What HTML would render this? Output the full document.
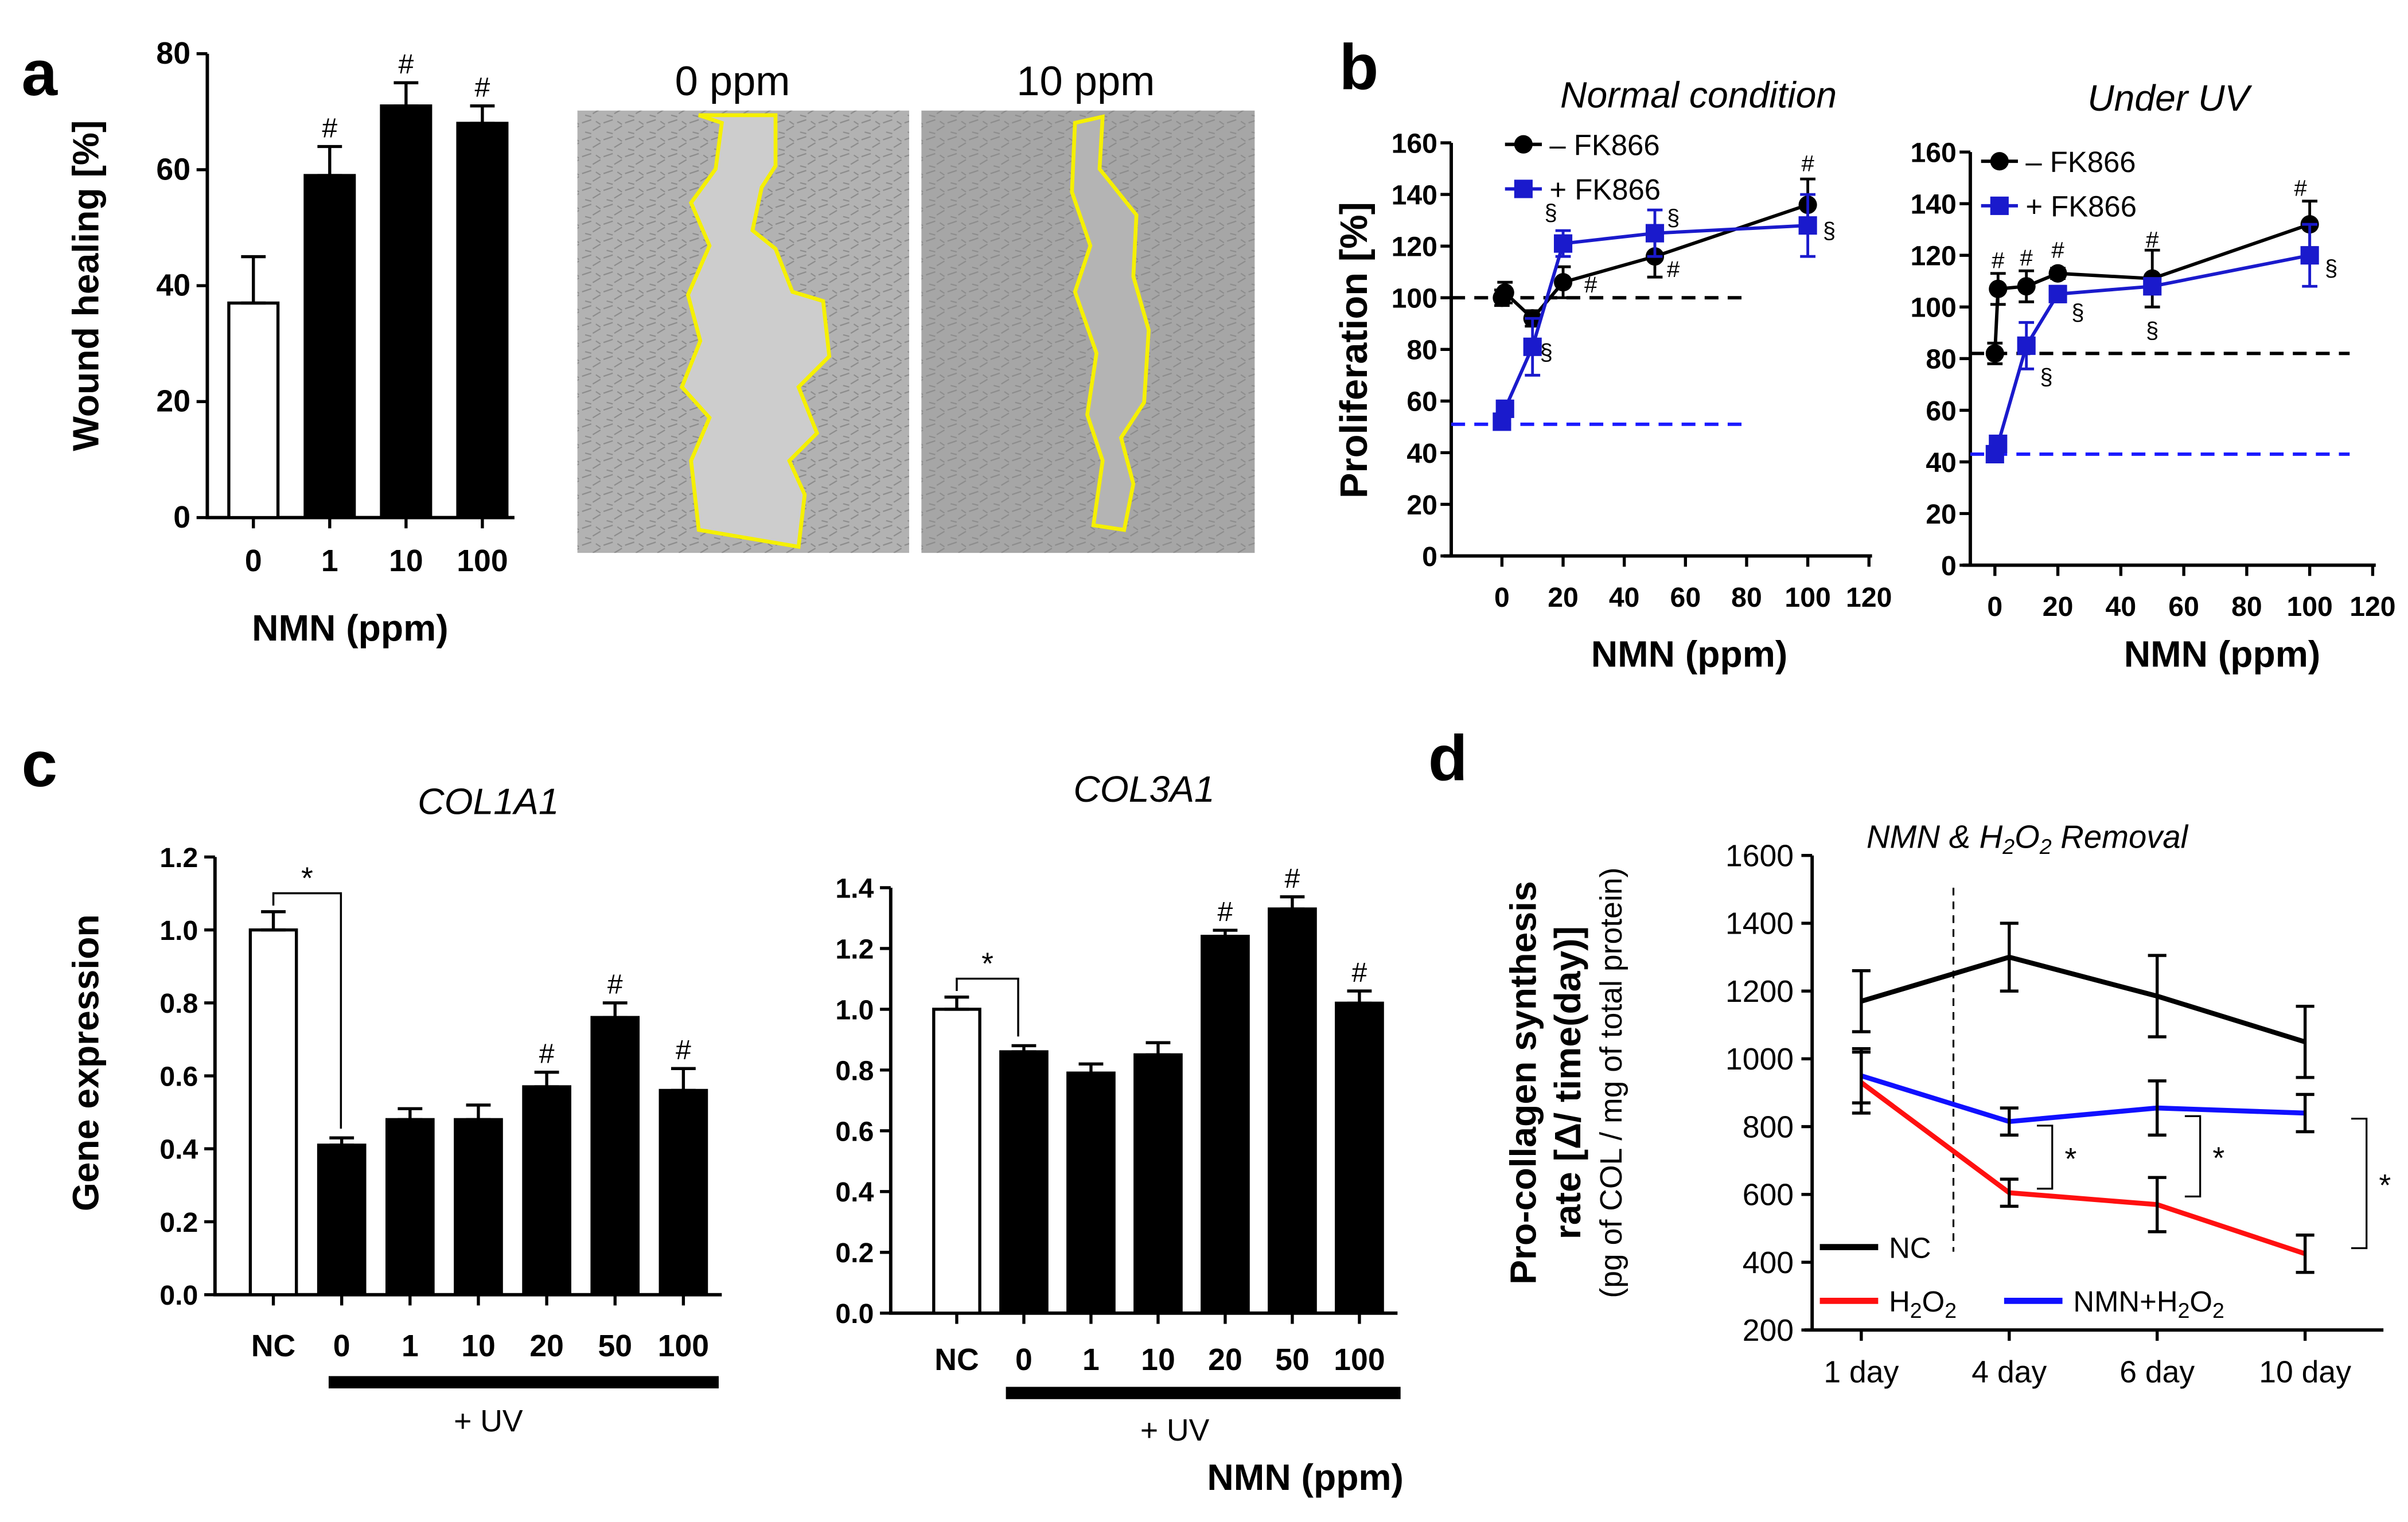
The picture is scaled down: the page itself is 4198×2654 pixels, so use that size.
<!DOCTYPE html>
<html><head><meta charset="utf-8"><style>
html,body{margin:0;padding:0;background:#fff;}
svg{display:block;font-family:"Liberation Sans",Arial,sans-serif;}
</style></head><body>
<svg id="fig" width="4198" height="2654" viewBox="0 0 1568 991" preserveAspectRatio="none" xmlns="http://www.w3.org/2000/svg">
<defs>
<pattern id="cells" width="14" height="11" patternUnits="userSpaceOnUse">
<path d="M1,3 l6,-2 M8,8 l5,-3 M3,9 l4,1 M10,2 l3,2" stroke="#7a7a7a" stroke-width="0.8" fill="none"/>
</pattern>
</defs>
<g font-weight="bold" font-size="42">
<text x="14" y="62">a</text>
<text x="872" y="58">b</text>
<text x="14" y="512">c</text>
<text x="930" y="508">d</text>
</g>
<g>
<rect x="376" y="72" width="216" height="288" fill="#b2b2b2"/>
<rect x="376" y="72" width="216" height="288" fill="url(#cells)" opacity="0.7"/>
<polygon points="455,75 470,80 466,110 450,132 462,160 448,192 456,222 444,252 462,272 450,300 455,345 520,356 524,322 514,300 532,282 520,252 540,232 536,196 516,190 505,162 490,150 496,122 505,108 505,75" fill="#cdcdcd" stroke="#f5f000" stroke-width="2.5"/>
<rect x="600" y="72" width="217" height="288" fill="#a6a6a6"/>
<rect x="600" y="72" width="217" height="288" fill="url(#cells)" opacity="0.6"/>
<polygon points="700,80 718,76 716,110 740,140 738,180 748,215 745,262 730,285 738,315 732,345 712,342 718,300 708,270 714,230 700,190 710,160 698,125" fill="#b4b4b4" stroke="#f5f000" stroke-width="2.5"/>
<text x="477" y="62" font-size="27" text-anchor="middle">0 ppm</text>
<text x="707" y="62" font-size="27" text-anchor="middle">10 ppm</text>
</g>
<g id="charts"></g>
</svg>
<script>
// ---- Panel a data ----
const aCats = ["0","1","10","100"];
const aVals = [37, 59, 71, 68];
const aErr = [8, 5, 4, 3];
const aFill = ["#fff","#000","#000","#000"];
const aSig = ["","#","#","#"];
const aTicks = [0,20,40,60,80];
// ---- Panel b data ----
const bX = [0,1,10,20,50,100];
const bNormMinus = [100,102,92,106,116,136];
const bNormMinusErr = [3,4,3,6,8,10];
const bNormPlus = [52,57,81,121,125,128];
const bNormPlusErr = [2,3,11,5,9,12];
const bUvMinus = [82,107,108,113,111,132];
const bUvMinusErr = [4,6,6,2,11,9];
const bUvPlus = [43,47,85,105,108,120];
const bUvPlusErr = [2,3,9,3,3,12];
const bNormBase = [100,51];
const bUvBase = [82,43];
const bYTicks = [0,20,40,60,80,100,120,140,160];
const bXTicks = [0,20,40,60,80,100,120];
// ---- Panel c data ----
const cCats = ["NC","0","1","10","20","50","100"];
const c1Vals = [1.0,0.41,0.48,0.48,0.57,0.76,0.56];
const c1Err = [0.05,0.02,0.03,0.04,0.04,0.04,0.06];
const c1Sig = ["","","","","#","#","#"];
const c1Ticks = [0,0.2,0.4,0.6,0.8,1.0,1.2];
const c3Vals = [1.0,0.86,0.79,0.85,1.24,1.33,1.02];
const c3Err = [0.04,0.02,0.03,0.04,0.02,0.04,0.04];
const c3Sig = ["","","","","#","#","#"];
const c3Ticks = [0,0.2,0.4,0.6,0.8,1.0,1.2,1.4];
// ---- Panel d data ----
const dCats = ["1 day","4 day","6 day","10 day"];
const dNC = [1170,1300,1185,1050];
const dNCErr = [90,100,120,105];
const dNMN = [950,815,855,840];
const dNMNErr = [80,40,80,55];
const dH2O2 = [930,605,570,425];
const dH2O2Err = [90,40,80,55];
const dTicks = [200,400,600,800,1000,1200,1400,1600];

const NS="http://www.w3.org/2000/svg";
const root=document.getElementById('charts');
function mk(tag,attrs,parent){const e=document.createElementNS(NS,tag);for(const k in attrs)e.setAttribute(k,attrs[k]);(parent||root).appendChild(e);return e;}
function txt(x,y,s,attrs,parent){const e=mk('text',Object.assign({x:x,y:y},attrs||{}),parent);e.textContent=s;return e;}
function lin(scaleMin,scaleMax,pxMin,pxMax){return v=>pxMin+(v-scaleMin)/(scaleMax-scaleMin)*(pxMax-pxMin);}
function errBar(g,x,y1,y2,w,color,sw){
  const e=mk('path',{d:`M${x},${y1}V${y2}M${x-w},${y1}H${x+w}M${x-w},${y2}H${x+w}`,stroke:color,'stroke-width':sw||2,fill:'none'},g);
  
  
}

// ===== Bar chart helper =====
function barChart(name,cfg){
  const g=mk('g',{});
  
  
  const y=lin(0,cfg.ymax,cfg.y0,cfg.ytop);
  const ax=mk('path',{d:`M${cfg.ax},${cfg.ytop}V${cfg.y0}H${cfg.axEnd}`,stroke:'#000','stroke-width':2.2,fill:'none'},g);
  
  
  cfg.ticks.forEach(t=>{
    const tk=mk('line',{x1:cfg.ax-7,x2:cfg.ax,y1:y(t),y2:y(t),stroke:'#000','stroke-width':2},g);
    
    
    const tl=txt(cfg.ax-11,y(t)+6.5,cfg.fmt(t),{'font-size':cfg.tfs||18,'font-weight':'bold','text-anchor':'end'},g);
    
    
  });
  cfg.cats.forEach((c,i)=>{
    const cx=cfg.x0+i*cfg.step;
    const b=mk('rect',{x:cx-cfg.bw/2,y:y(cfg.vals[i]),width:cfg.bw,height:cfg.y0-y(cfg.vals[i]),fill:cfg.fill[i],stroke:'#000','stroke-width':2},g);
    
    
    errBar(g,cx,y(cfg.vals[i]),y(cfg.vals[i]+cfg.err[i]),8,'#000',2);
    const tk=mk('line',{x1:cx,x2:cx,y1:cfg.y0,y2:cfg.y0+7,stroke:'#000','stroke-width':2},g);
    
    
    const tl=txt(cx,cfg.y0+cfg.xlblOff,c,{'font-size':20,'font-weight':'bold','text-anchor':'middle'},g);
    
    
    if(cfg.sig[i]){
      const s=txt(cx,y(cfg.vals[i]+cfg.err[i])-6,cfg.sig[i],{'font-size':18,'text-anchor':'middle'},g);
      
      
    }
  });
  return {g,y};
}

// Panel a
const pa=barChart('wound-healing-chart',{cats:aCats,vals:aVals,err:aErr,fill:aFill,sig:aSig,ticks:aTicks,ymax:80,y0:337,ytop:35,ax:135,axEnd:335,x0:165,step:49.7,bw:32,xlblOff:35,tfs:20,fmt:t=>String(t)});
const aYT=txt(0,0,'Wound healing [%]',{'font-size':24,'font-weight':'bold','text-anchor':'middle',transform:'translate(64,186) rotate(-90)'},pa.g);


const aXT=txt(228,417,'NMN (ppm)',{'font-size':24,'font-weight':'bold','text-anchor':'middle'},pa.g);



// Panel c
const pc1=barChart('col1a1-chart',{cats:cCats,vals:c1Vals,err:c1Err,fill:["#fff","#000","#000","#000","#000","#000","#000"],sig:c1Sig,ticks:c1Ticks,ymax:1.2,y0:843,ytop:558,ax:140,axEnd:470,x0:178,step:44.5,bw:30,xlblOff:40,fmt:t=>t.toFixed(1)});
const pc3=barChart('col3a1-chart',{cats:cCats,vals:c3Vals,err:c3Err,fill:["#fff","#000","#000","#000","#000","#000","#000"],sig:c3Sig,ticks:c3Ticks,ymax:1.4,y0:855,ytop:578,ax:580,axEnd:910,x0:623,step:43.7,bw:30,xlblOff:37,fmt:t=>t.toFixed(1)});
[[pc1,'COL1A1',318,530,214,468,900,318,932,c1Vals,c1Err,178,222],[pc3,'COL3A1',745,522,655,912,907,765,938,c3Vals,c3Err,623,663]].forEach(p=>{
  const [pp,title,tx,ty,bx1,bx2,by,ux,uy,vals,err,x1,x2]=p;
  const t=txt(tx,ty,title,{'font-size':24,'font-style':'italic','text-anchor':'middle'},pp.g);
  
  
  const b=mk('rect',{x:bx1,y:by-4,width:bx2-bx1,height:8,fill:'#000'},pp.g);
  
  
  const u=txt(ux,uy,'+ UV',{'font-size':20,'text-anchor':'middle'},pp.g);
  
  
  const top=pp.y(vals[0]+err[0])-12;
  const br=mk('path',{d:`M${x1},${pp.y(vals[0]+err[0])-4}V${top}H${x2}V${pp.y(vals[1]+err[1])-6}`,stroke:'#000','stroke-width':1.3,fill:'none'},pp.g);
  
  
  const s=txt((x1+x2)/2,top-3,'*',{'font-size':20,'text-anchor':'middle'},pp.g);
  
  
});
const cYT=txt(0,0,'Gene expression',{'font-size':24,'font-weight':'bold','text-anchor':'middle',transform:'translate(64,692) rotate(-90)'},pc1.g);


const cXT=txt(850,970,'NMN (ppm)',{'font-size':24,'font-weight':'bold','text-anchor':'middle'},pc3.g);



// ===== Panel b =====
function lineChart(name,cfg){
  const g=mk('g',{});
  
  
  const y=lin(0,160,cfg.y0,cfg.ytop);
  const x=lin(0,120,cfg.x0,cfg.x120);
  const ax=mk('path',{d:`M${cfg.ax},${cfg.ytop}V${cfg.y0}M${cfg.ax-5},${cfg.y0}H${cfg.x120+2}`,stroke:'#000','stroke-width':2.2,fill:'none'},g);
  
  
  bYTicks.forEach(t=>{
    const tk=mk('line',{x1:cfg.ax-7,x2:cfg.ax,y1:y(t),y2:y(t),stroke:'#000','stroke-width':2},g);
    
    
    const tl=txt(cfg.ax-9,y(t)+6.5,String(t),{'font-size':18,'font-weight':'bold','text-anchor':'end',textLength:t>=100?30:(t>0?20:10)},g);
    
    
  });
  bXTicks.forEach(t=>{
    const tk=mk('line',{x1:x(t),x2:x(t),y1:cfg.y0,y2:cfg.y0+7,stroke:'#000','stroke-width':2},g);
    
    
    const tl=txt(x(t),cfg.y0+33,String(t),{'font-size':18,'font-weight':'bold','text-anchor':'middle'},g);
    
    
  });
  const bl=mk('line',{x1:cfg.ax,x2:cfg.dashEnd,y1:y(cfg.base[0]),y2:y(cfg.base[0]),stroke:'#000','stroke-width':2.2,'stroke-dasharray':'9,6'},g);
  
  
  const bb=mk('line',{x1:cfg.ax,x2:cfg.dashEnd,y1:y(cfg.base[1]),y2:y(cfg.base[1]),stroke:'#1a1aff','stroke-width':2.2,'stroke-dasharray':'9,6'},g);
  
  
  [[cfg.minus,cfg.minusErr,'#000','circle','minus-fk866-series'],[cfg.plus,cfg.plusErr,'#1a1acc','square','plus-fk866-series']].forEach(s=>{
    const [vals,err,col,shape,nm]=s;
    bX.forEach((v,i)=>errBar(g,x(v),y(vals[i]-err[i]),y(vals[i]+err[i]),5,col,1.8));
    const pl=mk('polyline',{points:bX.map((v,i)=>x(v)+','+y(vals[i])).join(' '),stroke:col,'stroke-width':2.2,fill:'none'},g);
    
    
    bX.forEach((v,i)=>{
      let m;
      if(shape==='circle') m=mk('circle',{cx:x(v),cy:y(vals[i]),r:6,fill:col},g);
      else m=mk('rect',{x:x(v)-6,y:y(vals[i])-6,width:12,height:12,fill:col},g);
      
      
    });
  });
  cfg.marks.forEach(mm=>{
    const t=txt(x(mm[0])+mm[1],y(mm[2]),mm[3],{'font-size':15,'text-anchor':'middle'},g);
    
    
  });
  [[cfg.legY,'#000','circle','– FK866'],[cfg.legY+29,'#1a1acc','square','+ FK866']].forEach(l=>{
    const [ly,col,shape,lab]=l;
    const ll=mk('line',{x1:cfg.legX,x2:cfg.legX+24,y1:ly,y2:ly,stroke:col,'stroke-width':2.2},g);
    
    
    let m;
    if(shape==='circle') m=mk('circle',{cx:cfg.legX+12,cy:ly,r:6,fill:col},g);
    else m=mk('rect',{x:cfg.legX+6,y:ly-6,width:12,height:12,fill:col},g);
    
    
    const lt=txt(cfg.legX+29,ly+7,lab,{'font-size':19},g);
    
    
  });
  const tt=txt(cfg.titleX,cfg.titleY,cfg.title,{'font-size':24,'font-style':'italic','text-anchor':'middle'},g);
  
  
  const xt=txt(cfg.xtX,434,'NMN (ppm)',{'font-size':24,'font-weight':'bold','text-anchor':'middle'},g);
  
  
  return g;
}
const gb1=lineChart('proliferation-normal-chart',{y0:362,ytop:93,x0:978,x120:1217,ax:945,dashEnd:1135,base:bNormBase,minus:bNormMinus,minusErr:bNormMinusErr,plus:bNormPlus,plusErr:bNormPlusErr,legX:980,legY:94,title:'Normal condition',titleX:1106,titleY:70,xtX:1100,
  marks:[[20,-8,130,'§'],[10,9,76,'§'],[20,18,102,'#'],[50,12,108,'#'],[50,12,128,'§'],[100,0,149,'#'],[100,14,123,'§']]});
const gb2=lineChart('proliferation-uv-chart',{y0:368,ytop:99,x0:1299,x120:1545,ax:1283,dashEnd:1530,base:bUvBase,minus:bUvMinus,minusErr:bUvMinusErr,plus:bUvPlus,plusErr:bUvPlusErr,legX:1290,legY:105,title:'Under UV',titleX:1412,titleY:72,xtX:1447,
  marks:[[1,0,115,'#'],[10,0,116,'#'],[20,0,119,'#'],[50,0,123,'#'],[100,-6,143,'#'],[20,13,95,'§'],[10,13,70,'§'],[50,0,88,'§'],[100,14,112,'§']]});
const bYT=txt(0,0,'Proliferation [%]',{'font-size':25,'font-weight':'bold','text-anchor':'middle',transform:'translate(890,228) rotate(-90)'},gb1);



// ===== Panel d =====
(function(){
  const g=mk('g',{});
  
  
  const y=lin(200,1600,866,557);
  const xs=[1212,1307,1403,1501];
  const x=i=>xs[0]+i*(xs[3]-xs[0])/(dCats.length-1);
  const ax=mk('path',{d:`M1180,557V866M1175,866H1552`,stroke:'#000','stroke-width':2.2,fill:'none'},g);
  
  
  dTicks.forEach(t=>{
    const tk=mk('line',{x1:1173,x2:1180,y1:y(t),y2:y(t),stroke:'#000','stroke-width':2},g);
    
    
    const tl=txt(1168,y(t)+7,String(t),{'font-size':20,'text-anchor':'end'},g);
    
    
  });
  dCats.forEach((c,i)=>{
    const tk=mk('line',{x1:x(i),x2:x(i),y1:866,y2:873,stroke:'#000','stroke-width':2},g);
    
    
    const tl=txt(x(i),900,c,{'font-size':20,'text-anchor':'middle'},g);
    
    
  });
  const dv=mk('line',{x1:1272,x2:1272,y1:578,y2:815,stroke:'#000','stroke-width':1.2,'stroke-dasharray':'5,4'},g);
  
  
  [[dNC,dNCErr,'#000','nc-series'],[dNMN,dNMNErr,'#1010ff','nmn-h2o2-series'],[dH2O2,dH2O2Err,'#ff1010','h2o2-series']].forEach(s=>{
    const [vals,err,col,nm]=s;
    const pl=mk('polyline',{points:vals.map((v,i)=>x(i)+','+y(v)).join(' '),stroke:col,'stroke-width':3.2,fill:'none'},g);
    
    
    vals.forEach((v,i)=>errBar(g,x(i),y(v-err[i]),y(v+err[i]),6,'#000',2));
  });
  for(let i=1;i<dCats.length;i++){
    const a=y(dNMN[i]-dNMNErr[i]*0.3), b=y(dH2O2[i]+dH2O2Err[i]*0.3);
    const bx=x(i)+(i===3?40:28);
    const br=mk('path',{d:`M${bx-10},${a}H${bx}V${b}H${bx-10}`,stroke:'#000','stroke-width':1.2,fill:'none'},g);
    
    
    const st=txt(bx+12,(a+b)/2+8,'*',{'font-size':20,'text-anchor':'middle'},g);
    
    
  }
  const tt=mk('text',{x:1320,y:552,'font-size':21,'font-style':'italic','text-anchor':'middle'},g);
  tt.innerHTML='NMN &amp; H<tspan font-size="14" dy="4">2</tspan><tspan dy="-4">O</tspan><tspan font-size="14" dy="4">2</tspan><tspan dy="-4"> Removal</tspan>';
  
  
  [[1185,812,'#000','NC'],[1185,847,'#ff1010','H<tspan font-size="14" dy="4">2</tspan><tspan dy="-4">O</tspan><tspan font-size="14" dy="4">2</tspan>'],[1305,847,'#1010ff','NMN+H<tspan font-size="14" dy="4">2</tspan><tspan dy="-4">O</tspan><tspan font-size="14" dy="4">2</tspan>']].forEach(l=>{
    const ll=mk('line',{x1:l[0],x2:l[0]+38,y1:l[1],y2:l[1],stroke:l[2],'stroke-width':4},g);
    
    
    const lt=mk('text',{x:l[0]+45,y:l[1]+7,'font-size':19},g);
    lt.innerHTML=l[3];
    
    
  });
  const t1=txt(0,0,'Pro-collagen synthesis',{'font-size':24,'font-weight':'bold','text-anchor':'middle',transform:'translate(1000,705) rotate(-90)'},g);
  
  
  const t2=txt(0,0,'rate [Δ/ time(day)]',{'font-size':24,'font-weight':'bold','text-anchor':'middle',transform:'translate(1029,705) rotate(-90)'},g);
  
  
  const t3=txt(0,0,'(pg of COL / mg of total protein)',{'font-size':20,'text-anchor':'middle',transform:'translate(1056,705) rotate(-90)'},g);
  
  
})();
</script>
</body></html>
